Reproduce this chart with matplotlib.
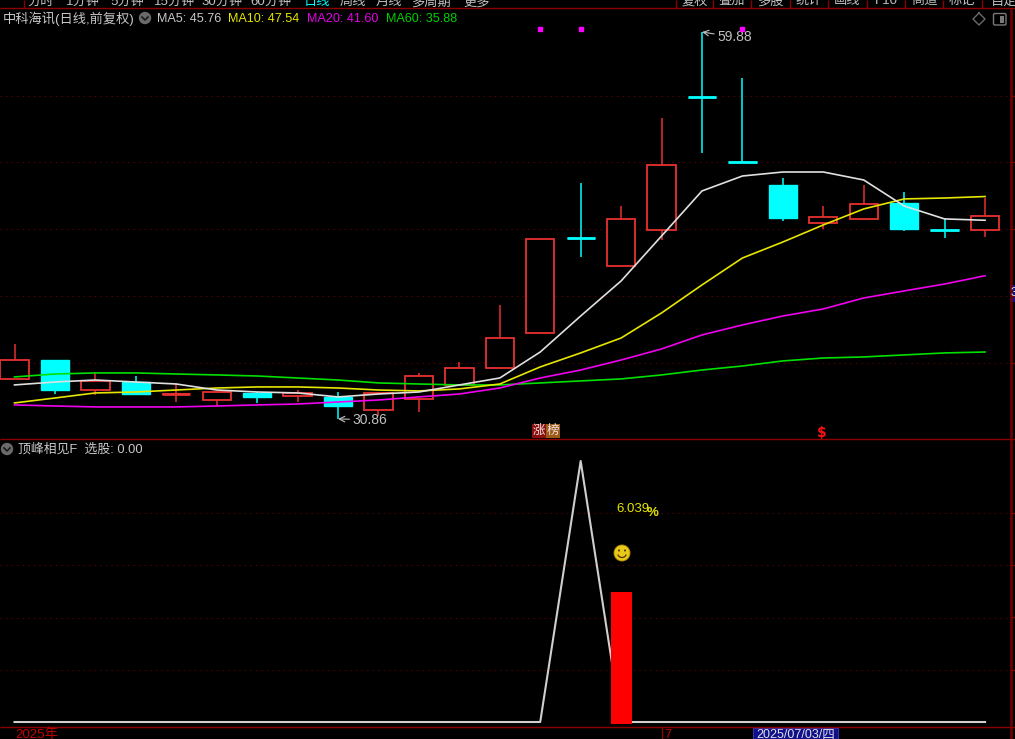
import numpy as np
import matplotlib
matplotlib.use('Agg')
import matplotlib.pyplot as plt
from matplotlib.patches import Rectangle, Circle, Arc, FancyBboxPatch

plt.rcParams['font.family'] = ['Liberation Sans', 'Noto Sans CJK SC', 'DejaVu Sans']

W, H = 1015, 739

# daily candles
opens = [33.86, 35.28, 33.03, 33.63, 32.70, 32.28, 32.81, 32.58, 32.51, 31.53, 32.36, 33.41, 34.68,
         37.31, 44.40, 42.33, 45.03, 55.00, 50.13, 48.41, 45.56, 45.86, 47.06, 45.05, 45.03]
closes = [35.28, 33.03, 33.71, 32.73, 32.73, 32.88, 32.51, 32.81, 31.83, 32.81, 34.08, 34.68, 36.93,
          44.36, 44.43, 45.86, 49.91, 55.01, 50.13, 45.93, 46.01, 46.98, 45.11, 45.03, 46.08]
highs = [36.48, 35.28, 34.31, 34.08, 33.56, 32.88, 32.88, 33.03, 32.88, 32.88, 34.31, 35.13, 39.41,
         44.36, 48.56, 46.83, 53.43, 59.88, 56.43, 48.93, 46.83, 48.41, 47.88, 45.93, 47.43]
lows = [33.86, 32.73, 32.66, 32.66, 32.13, 31.91, 32.06, 32.13, 30.86, 31.08, 31.38, 33.41, 34.68,
        37.31, 43.01, 42.33, 44.28, 50.81, 50.13, 45.71, 45.11, 45.78, 44.96, 44.43, 44.51]

ma5 = [33.41, 33.63, 33.78, 33.63, 33.48, 33.03, 32.88, 32.81, 32.51, 32.73, 32.88, 33.41, 33.93,
       35.88, 38.58, 41.21, 44.58, 47.96, 49.08, 49.38, 49.38, 48.78, 46.83, 45.86, 45.76]
ma10 = [32.06, 32.43, 32.81, 32.88, 33.03, 33.18, 33.26, 33.26, 33.18, 33.03, 32.96, 33.11, 33.48,
        34.76, 35.81, 36.93, 38.81, 40.91, 42.93, 44.13, 45.41, 46.61, 47.36, 47.43, 47.54]
ma20 = [31.91, 31.83, 31.76, 31.76, 31.76, 31.83, 31.91, 31.98, 32.13, 32.28, 32.51, 32.73, 33.18,
        33.93, 34.53, 35.28, 36.11, 37.16, 37.91, 38.58, 39.11, 39.93, 40.46, 40.98, 41.60]
ma60 = [34.01, 34.23, 34.31, 34.31, 34.23, 34.16, 34.08, 33.93, 33.78, 33.56, 33.48, 33.41, 33.41,
        33.56, 33.71, 33.86, 34.16, 34.53, 34.83, 35.21, 35.43, 35.51, 35.66, 35.81, 35.88]

# lower indicator
peak_line = [0, 0, 0, 0, 0, 0, 0, 0, 0, 0, 0, 0, 0, 0, 1.0, 0, 0, 0, 0, 0, 0, 0, 0, 0, 0]
signal_bar = [0, 0, 0, 0, 0, 0, 0, 0, 0, 0, 0, 0, 0, 0, 0, 0.50, 0, 0, 0, 0, 0, 0, 0, 0, 0]

signal_days = [13, 14, 18]
price_grid = [55.08, 50.13, 45.10, 40.08, 35.05]
ind_grid = [0.2, 0.4, 0.6, 0.8]

nav_labels = ['分时', '1分钟', '5分钟', '15分钟', '30分钟', '60分钟', '日线', '周线', '月线', '多周期', '更多']
nav_x = [41, 83, 127, 175, 222, 271, 317, 353, 389, 431, 477]
tool_labels = ['复权', '叠加', '多股', '统计', '画线', 'F10', '商道', '标记', '自定']
tool_x = [695, 732, 770, 809, 847, 886, 924, 962, 1004]

RED = '#e83030'
CYAN = '#00ffff'
GRID = '#6e0000'
LINE = '#8c0000'

fig = plt.figure(figsize=(W / 100, H / 100), dpi=100, facecolor='black')


def panel(top, bottom):
    ax = fig.add_axes([0, 1 - bottom / H, 1, (bottom - top) / H], facecolor='black')
    ax.set_xlim(-0.3586, 24.74)
    ax.axis('off')
    return ax


ax1 = panel(9, 439)
ax1.set_ylim(29.355, 61.605)
ax2 = panel(440, 727)
ax2.set_ylim(-5 / 261, 282 / 261)

x = np.arange(len(opens))

for y in price_grid:
    ax1.axhline(y, color=GRID, lw=0.8, ls=(0, (1, 4)), zorder=1)
for y in ind_grid:
    ax2.axhline(y, color=GRID, lw=0.8, ls=(0, (1, 4)), zorder=1)

# candles
for i in x:
    up = closes[i] >= opens[i] and i not in (14, 17, 18, 23)
    col = RED if up else CYAN
    top, bot = max(opens[i], closes[i]), min(opens[i], closes[i])
    ax1.plot([i, i], [top, highs[i]], color=col, lw=1.1, zorder=2, solid_capstyle='butt')
    ax1.plot([i, i], [lows[i], bot], color=col, lw=1.1, zorder=2, solid_capstyle='butt')
    if up:
        ax1.add_patch(Rectangle((i - 0.35, bot), 0.7, top - bot, fc='black', ec=RED, lw=1.3, zorder=3))
    else:
        ax1.add_patch(Rectangle((i - 0.35, bot), 0.7, top - bot, fc=CYAN, ec=CYAN, lw=1.0, zorder=3))
    if top - bot < 0.1:
        ax1.plot([i - 0.35, i + 0.35], [top, top], color=RED if i == 4 else CYAN, lw=2.0, zorder=3,
                 solid_capstyle='butt')

ax1.plot(x, ma60, color='#00e000', lw=1.2, zorder=4)
ax1.plot(x, ma20, color='#f000f0', lw=1.2, zorder=4)
ax1.plot(x, ma10, color='#e6e600', lw=1.2, zorder=4)
ax1.plot(x, ma5, color='#e0e0e0', lw=1.2, zorder=4)

ax1.plot(signal_days, [60.1] * len(signal_days), ls='none', marker='s', ms=2.6, color='#ff00ff', zorder=5)

ax1.annotate('59.88', xy=(17, 59.88), xytext=(17.37, 59.50), color='#c0c0c0', fontsize=10, va='center',
             arrowprops=dict(arrowstyle='->', color='#c0c0c0', lw=0.8, shrinkA=0, shrinkB=0))
ax1.annotate('30.86', xy=(8, 30.86), xytext=(8.35, 30.80), color='#c0c0c0', fontsize=10, va='center',
             arrowprops=dict(arrowstyle='->', color='#c0c0c0', lw=0.8, shrinkA=0, shrinkB=0))

# indicator
ax2.plot(x, peak_line, color='#cfcfcf', lw=1.5, zorder=2)
ax2.bar(x, np.array(signal_bar) + 0.008 * (np.array(signal_bar) > 0), bottom=-0.008, width=0.52,
        color='#ff0000', zorder=3)
ax2.text(14.89, 0.815, '6.039', color='#e6e600', fontsize=9.5, va='center', ha='left')
ax2.text(15.63, 0.80, '%', color='#e6e600', fontsize=9.5, fontweight='bold', va='center', ha='left')

# everything around the panels is drawn in pixel units
ov = fig.add_axes([0, 0, 1, 1], facecolor='none')
ov.set_xlim(0, W)
ov.set_ylim(H, 0)
ov.axis('off')


def hline(y, x0=0, x1=1011):
    ov.plot([x0, x1], [y, y], color=LINE, lw=1.0, solid_capstyle='butt')


def vline(x0, y0, y1, lw=1.0, color=LINE):
    ov.plot([x0, x0], [y0, y1], color=color, lw=lw, solid_capstyle='butt')


def menu_button(cx, cy):
    ov.add_patch(Circle((cx, cy), 6.2, fc='#6a6a6a', ec='none'))
    ov.plot([cx - 3, cx, cx + 3], [cy - 1, cy + 2, cy - 1], color='#1a1a1a', lw=1.2)


hline(8, x1=W)
hline(439)
hline(727)
vline(1011, 8, 739, lw=1.8, color='#760000')
vline(24, 0, 8)
for sx in [676, 713, 751, 790, 828, 867, 905, 943, 982]:
    vline(sx, 0, 8)
for ty in [96, 162, 229, 296, 363, 439, 513, 565, 617, 670, 727]:
    ov.plot([1011, 1015], [ty, ty], color='#760000', lw=1.0, solid_capstyle='butt')

for label, lx in zip(nav_labels, nav_x):
    ov.text(lx, 2, label, color=CYAN if label == '日线' else '#c0c0c0', fontsize=9.5, ha='center', va='center',
            clip_on=True)
for label, lx in zip(tool_labels, tool_x):
    ov.text(lx, 1, label, color='#c0c0c0', fontsize=9.5, ha='center', va='center', clip_on=True)

ov.text(3, 19, '中科海讯(日线,前复权)', color='#c8c8c8', fontsize=9.5, va='center')
menu_button(145, 18)
ov.text(157, 18.5, 'MA5: 45.76', color='#c8c8c8', fontsize=9.1, va='center')
ov.text(228, 18.5, 'MA10: 47.54', color='#e6e600', fontsize=9.1, va='center')
ov.text(307, 18.5, 'MA20: 41.60', color='#e600e6', fontsize=9.1, va='center')
ov.text(386, 18.5, 'MA60: 35.88', color='#00d000', fontsize=9.1, va='center')

menu_button(7, 449)
ov.text(18, 449.5, '顶峰相见F  选股: 0.00', color='#c8c8c8', fontsize=9.3, va='center')

# top right icons
ov.plot([979, 985, 979, 973, 979], [13, 19, 25, 19, 13], color='#6a6a6a', lw=1.0)
ov.add_patch(FancyBboxPatch((994, 14), 11.5, 10.5, boxstyle='round,pad=0.5,rounding_size=1.5', fc='none',
                            ec='#7a7a7a', lw=1.0))
ov.add_patch(Rectangle((1000, 15.5), 4, 7.5, fc='#7a7a7a', ec='none'))

# tags
ov.add_patch(Rectangle((532, 424), 14, 14, fc='#8b1010', ec='none'))
ov.add_patch(Rectangle((546, 424), 14, 14, fc='#9c5a18', ec='none'))
ov.text(539, 431, '涨', color='#f0e0e0', fontsize=9, ha='center', va='center')
ov.text(553, 431, '榜', color='#f0e0e0', fontsize=9, ha='center', va='center')
ov.text(822, 433, '$', color='#ff1010', fontsize=10, fontweight='bold', family='DejaVu Sans', ha='center',
        va='center')

# smiley
ov.add_patch(Circle((622, 553), 8, fc='#e8c818', ec='#b89000', lw=0.6))
ov.add_patch(Circle((619, 550.5), 1.0, fc='#503000', ec='none'))
ov.add_patch(Circle((625, 550.5), 1.0, fc='#503000', ec='none'))
ov.add_patch(Arc((622, 553), 9, 9, theta1=20, theta2=160, color='#503000', lw=0.9))

# bottom date strip
ov.text(15, 735, '2025年', color='#c00000', fontsize=9.6, va='center')
vline(662, 727, 739)
ov.text(664, 735, '7', color='#c00000', fontsize=9, va='center')
ov.add_patch(Rectangle((753, 728), 85, 11, fc='#10108c', ec='#4040c0', lw=0.6))
ov.text(795.5, 735, '2025/07/03/四', color='#e0e0e0', fontsize=9, ha='center', va='center')

# cursor price tag on the right edge
ov.add_patch(Rectangle((1010, 285), 5, 17, fc='#10108c', ec='none'))
ov.text(1011, 293, '3', color='#e0e0e0', fontsize=8.5, va='center', clip_on=True)

fig.savefig('out.png', dpi=100, facecolor='black')
